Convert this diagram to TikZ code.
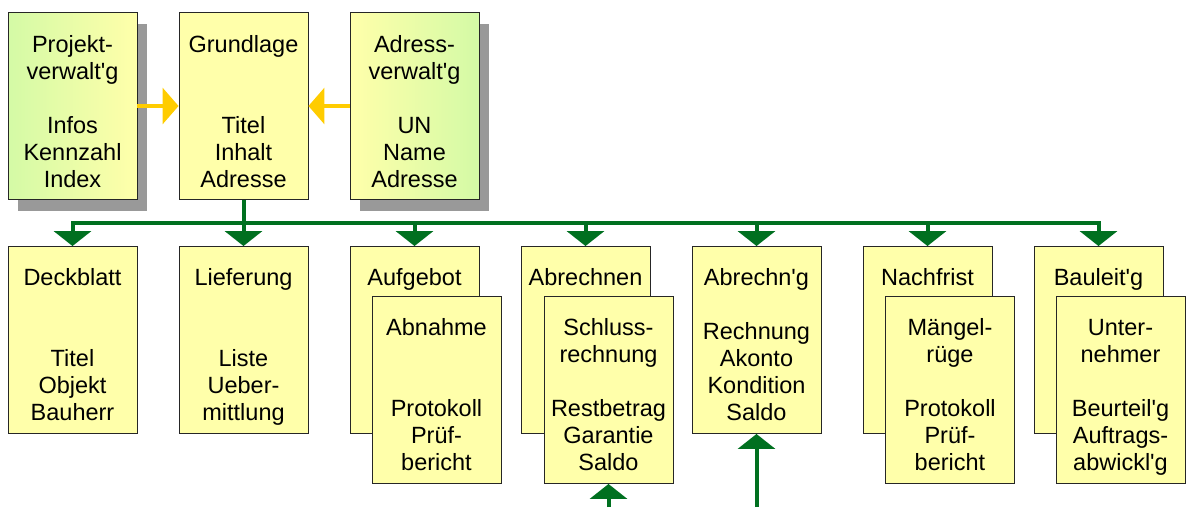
\documentclass[tikz,border=0pt]{standalone}
\usepackage{fontspec}
\newfontfamily\cardfont{Liberation Sans}
\usetikzlibrary{arrows.meta,shadows}
\definecolor{paleyellow}{RGB}{255,255,170}
\definecolor{palegreen}{RGB}{212,250,166}
\definecolor{darkgreen}{RGB}{0,112,32}
\definecolor{gold}{RGB}{255,204,0}
\definecolor{shadowgray}{RGB}{153,153,153}

\begin{document}
\begin{tikzpicture}[x=1pt,y=1pt,yscale=-1,xscale=1,
	card/.style={draw=black!85,line width=0.9pt,fill=paleyellow,minimum width=129pt,minimum height=187pt,inner sep=0pt},
	shadowed/.style={drop shadow={shadow xshift=10pt,shadow yshift=-11pt,fill=shadowgray,opacity=1}},
	txt/.style={anchor=north,inner sep=0pt,text width=129pt,align=center,font=\cardfont\fontsize{23.5}{27}\selectfont,execute at begin node=\strut},
	feed/.style={gold,line width=3.5pt,-{Triangle[width=36pt,length=16pt]}},
	bus/.style={darkgreen,line width=4pt},
	busarrow/.style={-{Triangle[width=37pt,length=15pt]}}]
		\useasboundingbox (0,0) rectangle (1186,507);

		\node[card,shadowed,left color=palegreen,right color=paleyellow] (proj) at (72.5,106) {};
		\node[card] (grund) at (243.5,106) {};
		\node[card,shadowed,left color=paleyellow,right color=palegreen] (adr) at (414.5,106) {};
		\node[txt] (proj-t) at (72.5,33) {Projekt-\\verwalt'g\\[27pt]Infos\\Kennzahl\\Index};
		\node[txt] (grund-t) at (243.5,33) {Grundlage\\[54pt]Titel\\Inhalt\\Adresse};
		\node[txt] (adr-t) at (414.5,33) {Adress-\\verwalt'g\\[27pt]UN\\Name\\Adresse};

		\node[card] (deck) at (72.5,340) {};
		\node[card] (lief) at (243.5,340) {};
		\node[card] (aufg) at (414.5,340) {};
		\node[card] (abre) at (585.5,340) {};
		\node[card] (abrg) at (756.5,340) {};
		\node[card] (nach) at (927.5,340) {};
		\node[card] (baul) at (1098.5,340) {};
		\node[txt] (deck-t) at (72.5,266) {Deckblatt\\[54pt]Titel\\Objekt\\Bauherr};
		\node[txt] (lief-t) at (243.5,266) {Lieferung\\[54pt]Liste\\Ueber-\\mittlung};
		\node[txt] (aufg-t) at (414.5,266) {Aufgebot};
		\node[txt] (abre-t) at (585.5,266) {Abrechnen};
		\node[txt] (abrg-t) at (756.5,266) {Abrechn'g\\[27pt]Rechnung\\Akonto\\Kondition\\Saldo};
		\node[txt] (nach-t) at (927.5,266) {Nachfrist};
		\node[txt] (baul-t) at (1098.5,266) {Bauleit'g};

		\node[card] (abn) at (436.5,390) {};
		\node[card] (schl) at (608.5,390) {};
		\node[card] (maeng) at (950,390) {};
		\node[card] (untn) at (1120.5,390) {};
		\node[txt] (abn-t) at (436.5,316) {Abnahme\\[54pt]Protokoll\\Prüf-\\bericht};
		\node[txt] (schl-t) at (608.5,316) {Schluss-\\rechnung\\[27pt]Restbetrag\\Garantie\\Saldo};
		\node[txt] (maeng-t) at (950,316) {Mängel-\\rüge\\[27pt]Protokoll\\Prüf-\\bericht};
		\node[txt] (untn-t) at (1120.5,316) {Unter-\\nehmer\\[27pt]Beurteil'g\\Auftrags-\\abwickl'g};

		\draw[feed] (proj.east) -- (grund.west);
		\draw[feed] (adr.west) -- (grund.east);

		\coordinate (rail) at (243.5,223);
		\draw[bus] (grund.south) -- (rail);
		\draw[bus,{Triangle[width=37pt,length=15pt]}-{Triangle[width=37pt,length=15pt]}] (deck.north) -- (deck.north |- rail) -- (baul.north |- rail) -- (baul.north);
		\foreach \n in {lief,aufg,abre,abrg,nach}
			\draw[bus,busarrow] (\n.north |- rail) -- (\n.north);

		\coordinate (in-schl) at (608.5,507);
		\coordinate (in-abrg) at (756.5,507);
		\draw[bus,busarrow] (in-schl) -- (schl.south);
		\draw[bus,busarrow] (in-abrg) -- (abrg.south);
\end{tikzpicture}
\end{document}
